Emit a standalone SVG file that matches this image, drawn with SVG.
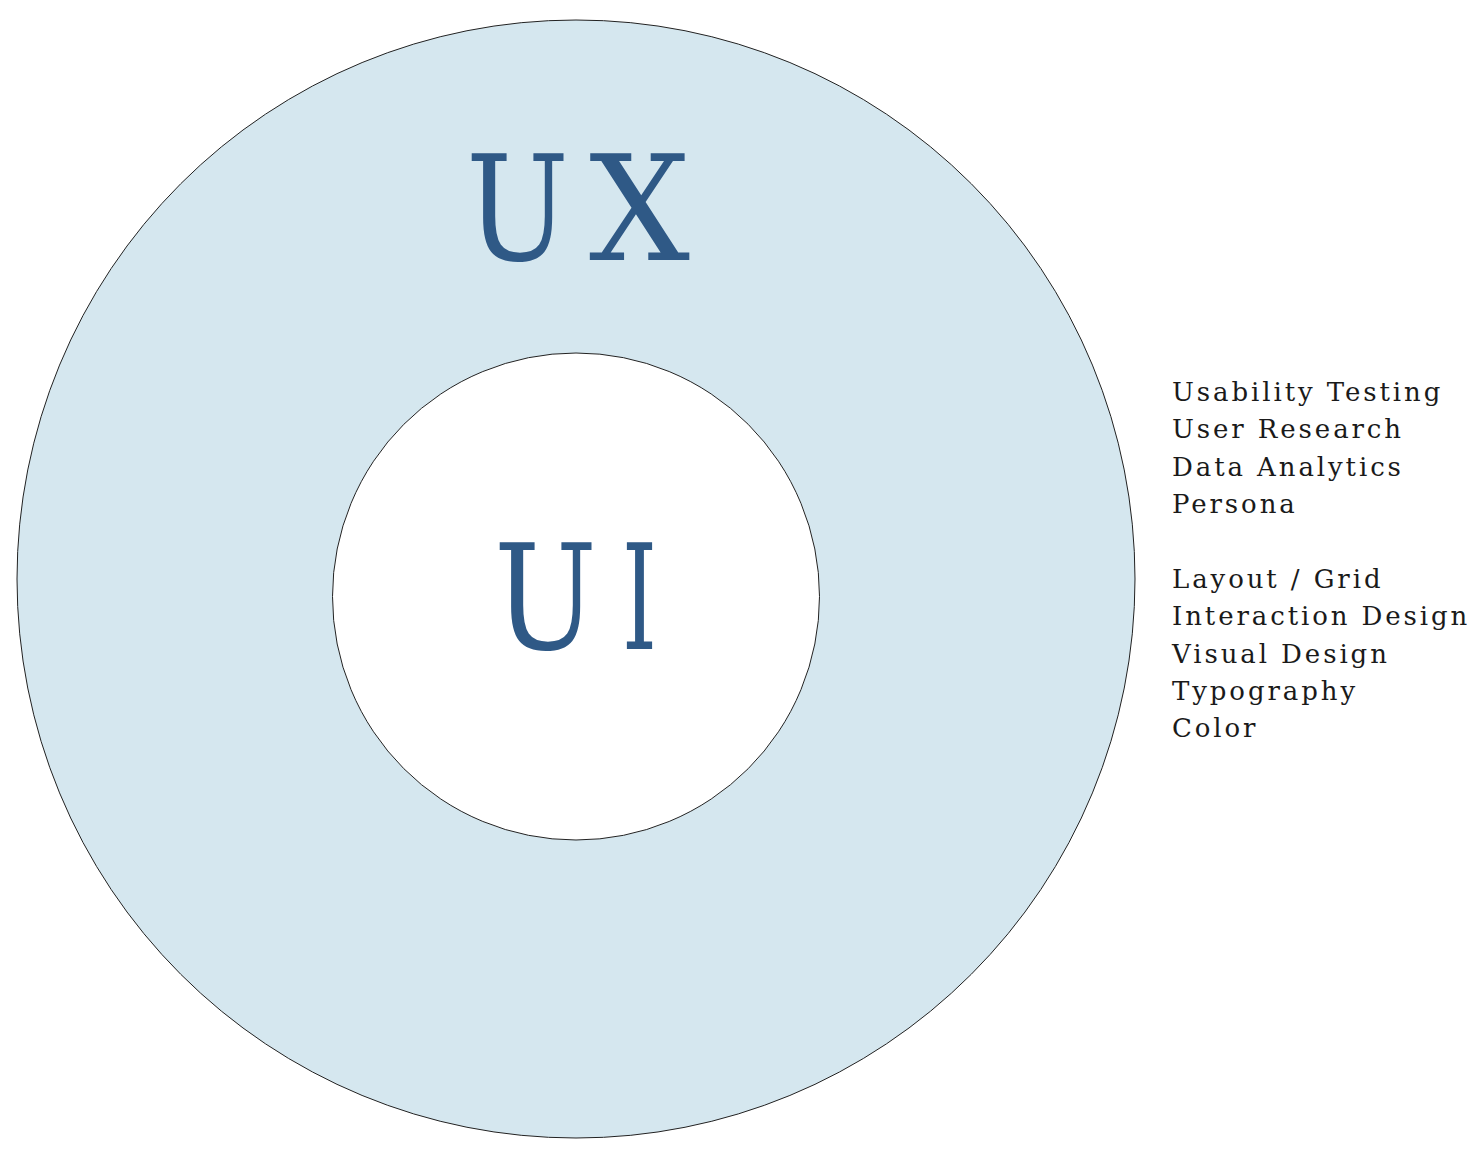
<svg xmlns="http://www.w3.org/2000/svg" width="1482" height="1158" viewBox="0 0 1482 1158">
<style>
.big{font-family:"DejaVu Serif","Liberation Serif",serif;fill:#2f5986;font-size:146px}
.item{font-family:"DejaVu Serif","Liberation Serif",serif;fill:#1a1a1a;font-size:26px;letter-spacing:2.9px}
</style>
<rect width="1482" height="1158" fill="#ffffff"/>
<g id="ux">
<circle cx="576" cy="579" r="559" fill="#d5e7ef" stroke="#222" stroke-width="1"/>
<text class="big" x="466" y="260" textLength="103" lengthAdjust="spacingAndGlyphs">U</text>
<text class="big" x="589" y="260" textLength="101" lengthAdjust="spacingAndGlyphs">X</text>
</g>
<g id="ui">
<circle cx="576" cy="596.5" r="243.5" fill="#ffffff" stroke="#222" stroke-width="1"/>
<text class="big" x="494" y="649" textLength="103" lengthAdjust="spacingAndGlyphs">U</text>
<text class="big" x="622" y="649" textLength="35" lengthAdjust="spacingAndGlyphs">I</text>
</g>
<g id="list">
<text class="item" x="1172" y="401">Usability Testing</text>
<text class="item" x="1172" y="438">User Research</text>
<text class="item" x="1172" y="476">Data Analytics</text>
<text class="item" x="1172" y="513">Persona</text>
<text class="item" x="1172" y="588">Layout / Grid</text>
<text class="item" x="1172" y="625">Interaction Design</text>
<text class="item" x="1172" y="663">Visual Design</text>
<text class="item" x="1172" y="700">Typography</text>
<text class="item" x="1172" y="737">Color</text>
</g>
</svg>
